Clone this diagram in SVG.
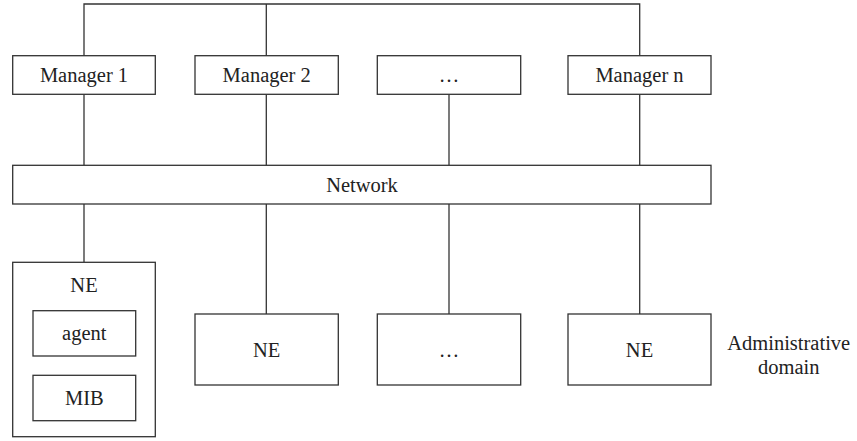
<svg xmlns="http://www.w3.org/2000/svg" width="857" height="441" viewBox="0 0 857 441">
<style>
rect{fill:#fff;stroke:#333;stroke-width:1.3}
.c line,.c polyline{stroke:#333;stroke-width:1.3;fill:none}
text{font-size:20.5px;fill:#222;text-anchor:middle}
</style>
<rect x="0" y="0" width="857" height="441" style="stroke:none"/>
<g class="c" id="connectors">
<polyline points="84,56 84,4 639.7,4 639.7,56"/>
<line x1="266.3" y1="4" x2="266.3" y2="56"/>
<line x1="84" y1="94.3" x2="84" y2="165.3"/>
<line x1="266.3" y1="94.3" x2="266.3" y2="165.3"/>
<line x1="449" y1="94.3" x2="449" y2="165.3"/>
<line x1="639.7" y1="94.3" x2="639.7" y2="165.3"/>
<line x1="84" y1="204" x2="84" y2="262.3"/>
<line x1="266.3" y1="204" x2="266.3" y2="314"/>
<line x1="449" y1="204" x2="449" y2="314"/>
<line x1="639.7" y1="204" x2="639.7" y2="314"/>
</g>
<g font-family="'Liberation Serif', 'DejaVu Serif', serif">
<g id="manager1"><rect x="12.7" y="55.7" width="142.6" height="38.6"/><text x="84" y="81.7">Manager 1</text></g>
<g id="manager2"><rect x="195" y="55.7" width="143.3" height="38.6"/><text x="266.7" y="81.7">Manager 2</text></g>
<g id="manager-dots"><rect x="377.3" y="55.7" width="143.4" height="38.6"/><text x="449" y="81.7">…</text></g>
<g id="managern"><rect x="568" y="55.7" width="143" height="38.6"/><text x="639.5" y="81.7">Manager n</text></g>
<g id="network"><rect x="12.7" y="165.3" width="698.3" height="38.7"/><text x="362" y="191.7">Network</text></g>
<g id="ne1"><rect x="12.7" y="262.3" width="142.6" height="174.4"/><text x="84" y="291.7">NE</text>
<g id="agent"><rect x="33" y="310.7" width="102.7" height="45.3"/><text x="84.3" y="340">agent</text></g>
<g id="mib"><rect x="33" y="375.3" width="102.7" height="45.4"/><text x="84.3" y="405">MIB</text></g>
</g>
<g id="ne2"><rect x="195" y="314" width="143.3" height="71"/><text x="266.7" y="357.3">NE</text></g>
<g id="ne-dots"><rect x="377.3" y="314" width="143.4" height="71"/><text x="449" y="357.3">…</text></g>
<g id="nen"><rect x="568" y="314" width="143" height="71"/><text x="639.5" y="357.3">NE</text></g>
<g id="domain"><text x="788.7" y="349.7">Administrative</text><text x="788.7" y="374">domain</text></g>
</g>
</svg>
